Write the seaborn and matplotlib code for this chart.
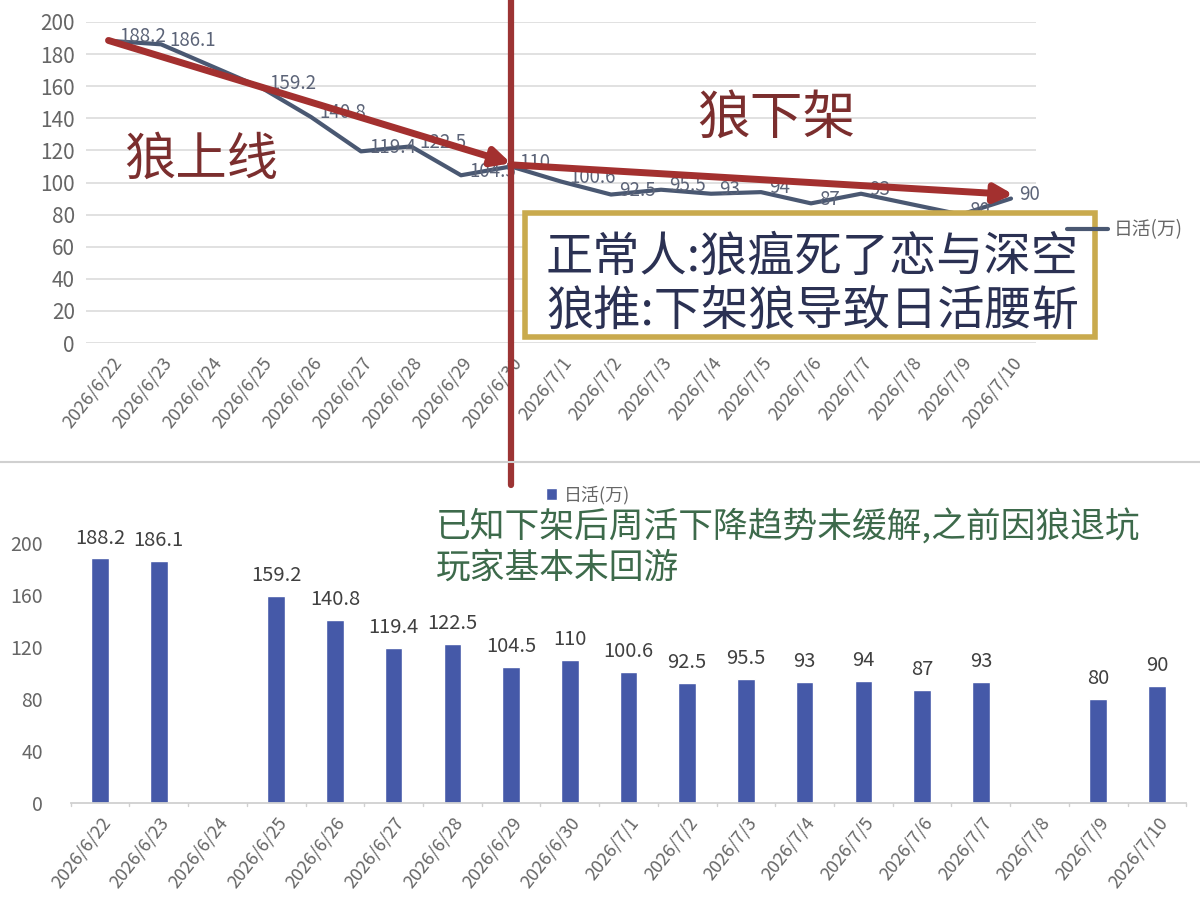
import numpy as np
import pandas as pd
import matplotlib
matplotlib.use("Agg")
import matplotlib.pyplot as plt
import seaborn as sns
from matplotlib.patches import Rectangle
from matplotlib.lines import Line2D

# ---------------- data ----------------
dates = ["2026/6/22", "2026/6/23", "2026/6/24", "2026/6/25", "2026/6/26", "2026/6/27",
         "2026/6/28", "2026/6/29", "2026/6/30", "2026/7/1", "2026/7/2", "2026/7/3",
         "2026/7/4", "2026/7/5", "2026/7/6", "2026/7/7", "2026/7/8", "2026/7/9", "2026/7/10"]
dau = [188.2, 186.1, np.nan, 159.2, 140.8, 119.4, 122.5, 104.5, 110, 100.6, 92.5, 95.5,
       93, 94, 87, 93, np.nan, 80, 90]
series_name = "日活(万)"
top_yticks = [0, 20, 40, 60, 80, 100, 120, 140, 160, 180, 200]
bottom_yticks = [0, 40, 80, 120, 160, 200]
label_up = "狼上线"
label_down = "狼下架"
box_lines = ["正常人:狼瘟死了恋与深空", "狼推:下架狼导致日活腰斩"]
note_lines = ["已知下架后周活下降趋势未缓解,之前因狼退坑", "玩家基本未回游"]

# ---------------- style ----------------
sns.set_theme(style="white")
plt.rcParams["font.family"] = ["Noto Sans CJK SC", "DejaVu Sans"]

W, H = 1200, 911
fig = plt.figure(figsize=(W / 100, H / 100), dpi=100)
fig.patch.set_facecolor("white")


def fx(x):
    return x / W


def fy(y):
    return 1 - y / H


LINE_C = "#4a5872"
BAR_C = "#4559a8"
RED = "#a3302f"
TXT_GRAY = "#666666"

df = pd.DataFrame({"date": dates, "pos": np.arange(len(dates)), "dau": dau})
dfv = df.dropna()

# ---------------- top line chart ----------------
ax1 = fig.add_axes([fx(86), fy(343), fx(950), (343 - 22) / H])
sns.lineplot(data=dfv, x="pos", y="dau", ax=ax1, color=LINE_C, linewidth=3,
             label=series_name, sort=True)
ax1.set_xlim(-0.5, len(dates) - 0.5)
ax1.set_ylim(0, 200)
ax1.set_yticks(top_yticks)
ax1.set_yticklabels([str(t) for t in top_yticks], fontsize=15, color=TXT_GRAY)
ax1.set_xticks(np.arange(len(dates)))
ax1.set_xticklabels(dates, rotation=52, ha="right", rotation_mode="anchor",
                    fontsize=13, color=TXT_GRAY)
ax1.tick_params(axis="both", length=0, pad=8)
ax1.grid(axis="y", color="#dcdcdc", linewidth=1.2)
for s in ax1.spines.values():
    s.set_visible(False)
ax1.set_xlabel("")
ax1.set_ylabel("")
for _, r in dfv.iterrows():
    ax1.annotate(f"{r['dau']:g}", (r["pos"], r["dau"]), xytext=(6, 3),
                 textcoords="offset points", ha="left", va="center",
                 fontsize=13.5, color="#5c6478")
handles1, labels1 = ax1.get_legend_handles_labels()
ax1.get_legend().remove()
leg1 = fig.legend(handles1, labels1, loc="center left",
                  bbox_to_anchor=(fx(1050), fy(230)), frameon=False, fontsize=13.5,
                  handlelength=2.2, handletextpad=0.3)
leg1.set_zorder(12)
for t in leg1.get_texts():
    t.set_color(TXT_GRAY)

# red vertical separator at 6/30
ax1.axvline(8, ymin=(343 - 485) / 321, ymax=343 / 321, color="#9c3434",
            linewidth=4.5, clip_on=False, zorder=6)
# red trend arrows
ax1.annotate("", xy=(8, 112), xytext=(-0.05, 188.5),
             arrowprops=dict(arrowstyle="-|>,head_length=0.9,head_width=0.45",
                             color=RED, lw=5, shrinkA=0, shrinkB=0), zorder=7)
ax1.annotate("", xy=(18.05, 92.5), xytext=(8, 111),
             arrowprops=dict(arrowstyle="-|>,head_length=0.9,head_width=0.45",
                             color=RED, lw=5, shrinkA=0, shrinkB=0), zorder=7)
ax1.text(1.8, 114, label_up, fontsize=37, color="#7b2e2e", ha="center", va="center")
ax1.text(13.3, 140, label_down, fontsize=38, color="#7b2e2e", ha="center", va="center")

# boxed quote
fig.patches.append(Rectangle((fx(525), fy(337)), fx(1095 - 525), (337 - 213) / H,
                             transform=fig.transFigure, facecolor="white",
                             edgecolor="#c9aa4e", linewidth=4, zorder=8))
fig.text(fx(546), fy(258), box_lines[0], fontsize=34, color="#2b3153",
         ha="left", va="center", zorder=9)
fig.text(fx(546), fy(312), box_lines[1], fontsize=34, color="#2b3153",
         ha="left", va="center", zorder=9)

# separator between the two charts
fig.add_artist(Line2D([0, 1], [fy(462), fy(462)], transform=fig.transFigure,
                      color="#d0d0d0", linewidth=1.5))

# ---------------- bottom bar chart ----------------
slot = (1157 - 100) / 18
ax2 = fig.add_axes([fx(100 - slot / 2), fy(803), fx(slot * 19), (803 - 543) / H])
sns.barplot(data=dfv, x="date", y="dau", order=dates, ax=ax2, color=BAR_C,
            width=0.3, saturation=1, label=series_name)
ax2.set_xlim(-0.5, len(dates) - 0.5)
ax2.set_ylim(0, 200)
ax2.set_yticks(bottom_yticks)
ax2.set_yticklabels([str(t) for t in bottom_yticks], fontsize=14, color=TXT_GRAY)
ax2.set_xticks(np.arange(len(dates)))
ax2.set_xticklabels(dates, rotation=52, ha="right", rotation_mode="anchor",
                    fontsize=13, color=TXT_GRAY)
ax2.tick_params(axis="y", length=0, pad=20)
ax2.tick_params(axis="x", length=0, pad=8)
for s in ["top", "right", "left"]:
    ax2.spines[s].set_visible(False)
ax2.spines["bottom"].set_color("#d0d0d0")
ax2.spines["bottom"].set_linewidth(1.3)
for k in range(len(dates) + 1):
    ax2.plot([k - 0.5, k - 0.5], [0, -2.5], color="#d0d0d0", lw=1, clip_on=False)
ax2.set_xlabel("")
ax2.set_ylabel("")
for _, r in dfv.iterrows():
    ax2.annotate(f"{r['dau']:g}", (r["pos"], r["dau"]), xytext=(0, 7),
                 textcoords="offset points", ha="center", va="bottom",
                 fontsize=14.5, color="#404040")
leg2 = ax2.legend(loc="center", bbox_to_anchor=(fx(588), fy(495)),
                  bbox_transform=fig.transFigure, frameon=False, fontsize=13,
                  handlelength=0.6, handleheight=0.6, handletextpad=0.4)
for t in leg2.get_texts():
    t.set_color(TXT_GRAY)

# green note
fig.text(fx(436), fy(528), note_lines[0], fontsize=25, color="#3d6a4b",
         ha="left", va="center")
fig.text(fx(436), fy(568), note_lines[1], fontsize=25, color="#3d6a4b",
         ha="left", va="center")

fig.savefig("out.png", dpi=100, facecolor="white")
